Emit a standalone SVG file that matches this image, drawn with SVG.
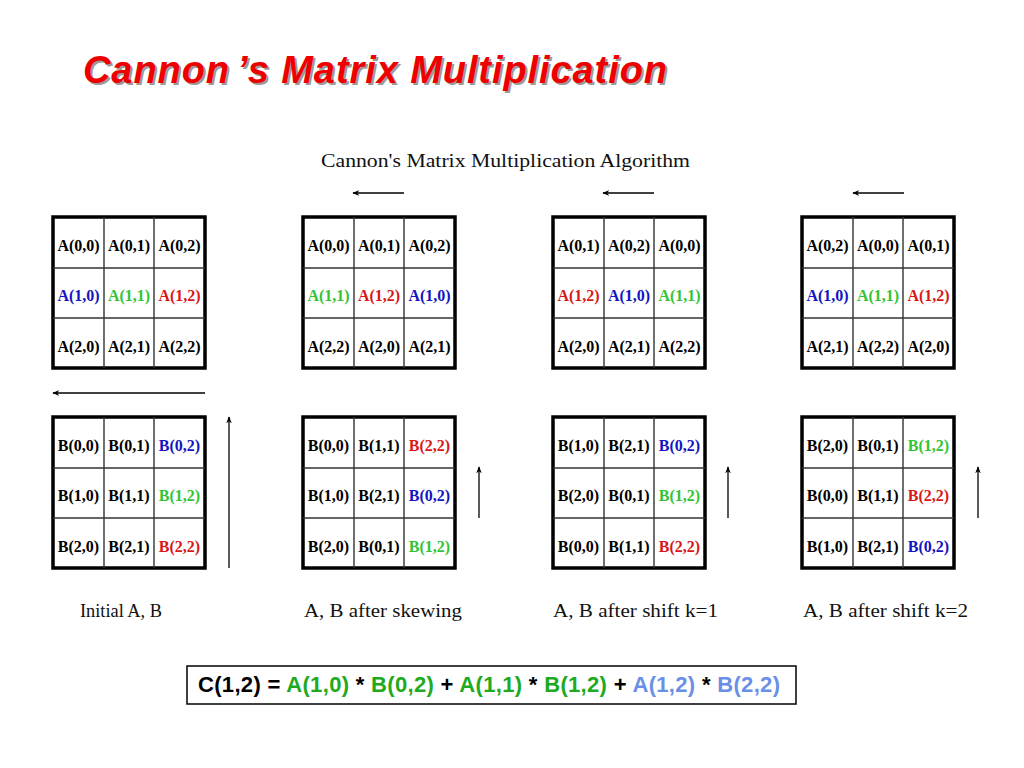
<svg xmlns="http://www.w3.org/2000/svg" width="1024" height="768" viewBox="0 0 1024 768">
<defs>
<style>
.cell{font-family:"Liberation Serif","Times New Roman",serif;font-weight:bold;font-size:16px;text-anchor:middle;fill:#000}
.b{fill:#1414c0}.g{fill:#33c433}.r{fill:#d81818}
.frame{fill:#fff;stroke:#000;stroke-width:3.5}
.grid{stroke:#333;stroke-width:1.4}
.cap{font-family:"Liberation Serif","Times New Roman",serif;font-size:19px;fill:#111}
.arr{stroke:#000;stroke-width:1.3;fill:none;marker-end:url(#ah)}
.f{font-family:"Liberation Sans",Arial,sans-serif;font-size:22px;font-weight:bold}
</style>
<marker id="ah" viewBox="0 0 10 10" refX="9" refY="5" markerWidth="7" markerHeight="7" markerUnits="userSpaceOnUse" orient="auto">
<path d="M0,1 L10,5 L0,9 L3,5 Z" fill="#000"/>
</marker>
<g id="gridtpl">
<rect class="frame" x="0" y="0" width="152" height="151"/>
<line class="grid" x1="51" y1="0" x2="51" y2="151"/>
<line class="grid" x1="101" y1="0" x2="101" y2="151"/>
<line class="grid" x1="0" y1="51" x2="152" y2="51"/>
<line class="grid" x1="0" y1="101" x2="152" y2="101"/>
</g>
</defs>
<rect width="1024" height="768" fill="#fff"/>

<g id="title" font-family="Liberation Sans, Arial, sans-serif" font-weight="bold" font-style="italic" font-size="38">
<text x="85" y="85" fill="#9a9a9a" textLength="584" lengthAdjust="spacing">Cannon<tspan dx="7">’s</tspan> Matrix Multiplication</text>
<text x="83" y="83" fill="#ee0000" textLength="584" lengthAdjust="spacing">Cannon<tspan dx="7">’s</tspan> Matrix Multiplication</text>
</g>

<text id="subtitle" class="cap" x="321" y="167" textLength="369" lengthAdjust="spacingAndGlyphs">Cannon's Matrix Multiplication Algorithm</text>

<g id="m1A" transform="translate(53,217)">
<use href="#gridtpl"/>
<text class="cell" x="25.5" y="33.5">A(0,0)</text><text class="cell" x="76" y="33.5">A(0,1)</text><text class="cell" x="126.5" y="33.5">A(0,2)</text>
<text class="cell b" x="25.5" y="84">A(1,0)</text><text class="cell g" x="76" y="84">A(1,1)</text><text class="cell r" x="126.5" y="84">A(1,2)</text>
<text class="cell" x="25.5" y="134.5">A(2,0)</text><text class="cell" x="76" y="134.5">A(2,1)</text><text class="cell" x="126.5" y="134.5">A(2,2)</text>
</g>
<g id="m1B" transform="translate(53,417)">
<use href="#gridtpl"/>
<text class="cell" x="25.5" y="33.5">B(0,0)</text><text class="cell" x="76" y="33.5">B(0,1)</text><text class="cell b" x="126.5" y="33.5">B(0,2)</text>
<text class="cell" x="25.5" y="84">B(1,0)</text><text class="cell" x="76" y="84">B(1,1)</text><text class="cell g" x="126.5" y="84">B(1,2)</text>
<text class="cell" x="25.5" y="134.5">B(2,0)</text><text class="cell" x="76" y="134.5">B(2,1)</text><text class="cell r" x="126.5" y="134.5">B(2,2)</text>
</g>

<g id="m2A" transform="translate(303,217)">
<use href="#gridtpl"/>
<text class="cell" x="25.5" y="33.5">A(0,0)</text><text class="cell" x="76" y="33.5">A(0,1)</text><text class="cell" x="126.5" y="33.5">A(0,2)</text>
<text class="cell g" x="25.5" y="84">A(1,1)</text><text class="cell r" x="76" y="84">A(1,2)</text><text class="cell b" x="126.5" y="84">A(1,0)</text>
<text class="cell" x="25.5" y="134.5">A(2,2)</text><text class="cell" x="76" y="134.5">A(2,0)</text><text class="cell" x="126.5" y="134.5">A(2,1)</text>
</g>
<g id="m2B" transform="translate(303,417)">
<use href="#gridtpl"/>
<text class="cell" x="25.5" y="33.5">B(0,0)</text><text class="cell" x="76" y="33.5">B(1,1)</text><text class="cell r" x="126.5" y="33.5">B(2,2)</text>
<text class="cell" x="25.5" y="84">B(1,0)</text><text class="cell" x="76" y="84">B(2,1)</text><text class="cell b" x="126.5" y="84">B(0,2)</text>
<text class="cell" x="25.5" y="134.5">B(2,0)</text><text class="cell" x="76" y="134.5">B(0,1)</text><text class="cell g" x="126.5" y="134.5">B(1,2)</text>
</g>

<g id="m3A" transform="translate(553,217)">
<use href="#gridtpl"/>
<text class="cell" x="25.5" y="33.5">A(0,1)</text><text class="cell" x="76" y="33.5">A(0,2)</text><text class="cell" x="126.5" y="33.5">A(0,0)</text>
<text class="cell r" x="25.5" y="84">A(1,2)</text><text class="cell b" x="76" y="84">A(1,0)</text><text class="cell g" x="126.5" y="84">A(1,1)</text>
<text class="cell" x="25.5" y="134.5">A(2,0)</text><text class="cell" x="76" y="134.5">A(2,1)</text><text class="cell" x="126.5" y="134.5">A(2,2)</text>
</g>
<g id="m3B" transform="translate(553,417)">
<use href="#gridtpl"/>
<text class="cell" x="25.5" y="33.5">B(1,0)</text><text class="cell" x="76" y="33.5">B(2,1)</text><text class="cell b" x="126.5" y="33.5">B(0,2)</text>
<text class="cell" x="25.5" y="84">B(2,0)</text><text class="cell" x="76" y="84">B(0,1)</text><text class="cell g" x="126.5" y="84">B(1,2)</text>
<text class="cell" x="25.5" y="134.5">B(0,0)</text><text class="cell" x="76" y="134.5">B(1,1)</text><text class="cell r" x="126.5" y="134.5">B(2,2)</text>
</g>

<g id="m4A" transform="translate(802,217)">
<use href="#gridtpl"/>
<text class="cell" x="25.5" y="33.5">A(0,2)</text><text class="cell" x="76" y="33.5">A(0,0)</text><text class="cell" x="126.5" y="33.5">A(0,1)</text>
<text class="cell b" x="25.5" y="84">A(1,0)</text><text class="cell g" x="76" y="84">A(1,1)</text><text class="cell r" x="126.5" y="84">A(1,2)</text>
<text class="cell" x="25.5" y="134.5">A(2,1)</text><text class="cell" x="76" y="134.5">A(2,2)</text><text class="cell" x="126.5" y="134.5">A(2,0)</text>
</g>
<g id="m4B" transform="translate(802,417)">
<use href="#gridtpl"/>
<text class="cell" x="25.5" y="33.5">B(2,0)</text><text class="cell" x="76" y="33.5">B(0,1)</text><text class="cell g" x="126.5" y="33.5">B(1,2)</text>
<text class="cell" x="25.5" y="84">B(0,0)</text><text class="cell" x="76" y="84">B(1,1)</text><text class="cell r" x="126.5" y="84">B(2,2)</text>
<text class="cell" x="25.5" y="134.5">B(1,0)</text><text class="cell" x="76" y="134.5">B(2,1)</text><text class="cell b" x="126.5" y="134.5">B(0,2)</text>
</g>

<g id="connectors">
<line class="arr" x1="205" y1="393" x2="53" y2="393"/>
<line class="arr" x1="229" y1="568" x2="229" y2="417"/>
<line class="arr" x1="404" y1="193" x2="353" y2="193"/>
<line class="arr" x1="479" y1="518" x2="479" y2="467"/>
<line class="arr" x1="654" y1="193" x2="603" y2="193"/>
<line class="arr" x1="728" y1="518" x2="728" y2="467"/>
<line class="arr" x1="904" y1="193" x2="853" y2="193"/>
<line class="arr" x1="978" y1="518" x2="978" y2="467"/>
</g>

<g id="captions">
<text class="cap" x="80" y="617" textLength="82" lengthAdjust="spacingAndGlyphs">Initial A, B</text>
<text class="cap" x="304" y="617" textLength="158" lengthAdjust="spacingAndGlyphs">A, B after skewing</text>
<text class="cap" x="553" y="617" textLength="165" lengthAdjust="spacingAndGlyphs">A, B after shift k=1</text>
<text class="cap" x="803" y="617" textLength="165" lengthAdjust="spacingAndGlyphs">A, B after shift k=2</text>
</g>

<g id="formula">
<rect x="187" y="666" width="609" height="38" fill="#fff" stroke="#000" stroke-width="1.5"/>
<text class="f" x="198" y="692" textLength="582" lengthAdjust="spacing"><tspan fill="#000">C(1,2) = </tspan><tspan fill="#1eaa1e">A(1,0)</tspan><tspan fill="#000"> * </tspan><tspan fill="#1eaa1e">B(0,2)</tspan><tspan fill="#000"> + </tspan><tspan fill="#1eaa1e">A(1,1)</tspan><tspan fill="#000"> * </tspan><tspan fill="#1eaa1e">B(1,2)</tspan><tspan fill="#000"> + </tspan><tspan fill="#6a8fe6">A(1,2)</tspan><tspan fill="#000"> * </tspan><tspan fill="#6a8fe6">B(2,2)</tspan></text>
</g>
</svg>
